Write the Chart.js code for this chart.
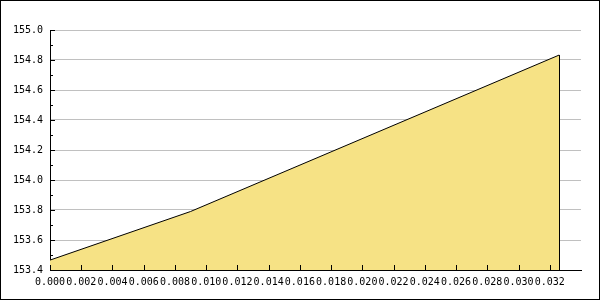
<!DOCTYPE html>
<html>
<head>
<meta charset="utf-8">
<script src="https://cdn.jsdelivr.net/npm/chart.js@4/dist/chart.umd.min.js"></script>
<style>
  html, body { margin: 0; padding: 0; background: #fff; }
  #wrap { width: 600px; height: 300px; }
</style>
</head>
<body>
<div id="wrap"><canvas id="chart" width="600" height="300"></canvas></div>
<script>
// data
const xValues = [0.0, 0.009, 0.0326];
const yValues = [153.466, 153.79, 154.833];
const yTicks = [153.4, 153.6, 153.8, 154.0, 154.2, 154.4, 154.6, 154.8, 155.0];
const xTicks = [0.000, 0.002, 0.004, 0.006, 0.008, 0.010, 0.012, 0.014, 0.016,
  0.018, 0.020, 0.022, 0.024, 0.026, 0.028, 0.030, 0.032];

const labelFont = { family: 'DejaVu Sans Mono', size: 10 };

// ticks point into the plot, plus minor y ticks, frame and closing edge of the area
const decorations = {
  id: 'decorations',
  afterDraw(chart) {
    const ctx = chart.ctx;
    const x = chart.scales.x;
    const y = chart.scales.y;
    const area = chart.chartArea;
    ctx.save();
    ctx.strokeStyle = '#000';
    ctx.lineWidth = 1;
    ctx.beginPath();
    yTicks.forEach((v, i) => {
      const py = Math.round(y.getPixelForValue(v)) + 0.5;
      ctx.moveTo(area.left, py);
      ctx.lineTo(area.left + 5, py);
      if (i < yTicks.length - 1) {
        const my = Math.round(y.getPixelForValue((v + yTicks[i + 1]) / 2)) + 0.5;
        ctx.moveTo(area.left, my);
        ctx.lineTo(area.left + 3, my);
      }
    });
    xTicks.forEach(v => {
      const px = Math.round(x.getPixelForValue(v)) + 0.5;
      ctx.moveTo(px, area.bottom);
      ctx.lineTo(px, area.bottom - 5);
    });
    // right edge of the filled area
    const pts = chart.getDatasetMeta(0).data;
    const last = pts[pts.length - 1];
    const lx = Math.round(last.x) + 0.5;
    ctx.moveTo(lx, last.y);
    ctx.lineTo(lx, area.bottom);
    ctx.stroke();
    ctx.strokeRect(0.5, 0.5, chart.width - 1, chart.height - 1);
    ctx.restore();
  }
};

new Chart(document.getElementById('chart'), {
  type: 'line',
  data: {
    datasets: [{
      data: xValues.map((v, i) => ({ x: v, y: yValues[i] })),
      borderColor: '#000000',
      borderWidth: 1,
      backgroundColor: '#F6E285',
      fill: 'start',
      tension: 0,
      pointRadius: 0
    }]
  },
  options: {
    responsive: false,
    animation: false,
    layout: { padding: { left: 0, top: 30, right: 19, bottom: 0 } },
    plugins: { legend: { display: false }, tooltip: { enabled: false } },
    scales: {
      x: {
        type: 'linear',
        min: 0,
        max: 0.034,
        afterBuildTicks: s => { s.ticks = xTicks.map(v => ({ value: v })); },
        afterFit: s => { s.height = 30; },
        grid: { display: false, drawTicks: false },
        border: { display: true, color: '#000', width: 1 },
        ticks: {
          autoSkip: false,
          maxRotation: 0,
          minRotation: 0,
          padding: 6,
          color: '#000',
          font: labelFont,
          callback: v => v.toFixed(3)
        }
      },
      y: {
        min: 153.4,
        max: 155.0,
        afterBuildTicks: s => { s.ticks = yTicks.map(v => ({ value: v })); },
        afterFit: s => { s.width = 50; },
        grid: { color: '#c0c0c0', lineWidth: 1, drawTicks: false },
        border: { display: true, color: '#000', width: 1 },
        ticks: {
          padding: 7,
          color: '#000',
          font: labelFont,
          callback: v => v.toFixed(1)
        }
      }
    }
  },
  plugins: [decorations]
});
</script>
</body>
</html>
